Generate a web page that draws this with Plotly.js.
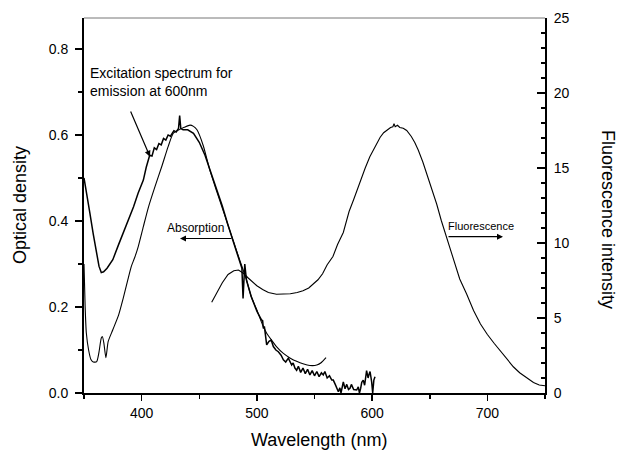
<!DOCTYPE html>
<html>
<head>
<meta charset="utf-8">
<script src="https://cdn.plot.ly/plotly-3.0.1.min.js"></script>
<style>html,body{margin:0;padding:0;background:#fff;}#chart{width:621px;height:450px;}</style>
</head>
<body>
<div id="chart"></div>
<script>
// Excitation spectrum (emission at 600 nm) — left axis, optical density scale
var excWl = [350,352,355,358,361,363,365,367,370,375,380,384,388,393,397,401.5,404,407,409,411,413,415,417,419,421,423,425,428,430,432,433,434,436,440,445,450,455,460,465,470,475,480,485,487,488,489.5,491,495,500,503,504,505,505.6,506.5,507.5,508.5,510.5,512.4,514.3,516.5,518.6,521,523,525,527.3,529,530.2,531.5,533,534.5,536,538,540,542,544,546,548,550,552,554,556,557.6,559,561,563,565,566.3,568,570.7,572,573,575,576.5,578,579.5,580.8,582,584,586.6,588,589,590,591,592.3,593.5,595.2,596.5,597.5,598.2,599.6,600.5,601.5,602.5];
var excOD = [0.50,0.47,0.42,0.37,0.32,0.295,0.28,0.282,0.29,0.31,0.345,0.371,0.40,0.433,0.465,0.495,0.525,0.553,0.551,0.57,0.566,0.58,0.577,0.592,0.588,0.60,0.597,0.61,0.607,0.615,0.645,0.615,0.612,0.612,0.604,0.583,0.553,0.515,0.475,0.435,0.39,0.35,0.31,0.29,0.22,0.30,0.262,0.225,0.19,0.172,0.17,0.168,0.15,0.155,0.13,0.112,0.12,0.123,0.108,0.10,0.096,0.088,0.077,0.072,0.081,0.07,0.065,0.07,0.058,0.053,0.062,0.048,0.058,0.045,0.055,0.042,0.052,0.04,0.05,0.038,0.047,0.042,0.05,0.035,0.04,0.03,0.03,0.02,0.003,0.012,0.0,0.026,0.01,0.02,0.008,0.011,0.02,0.008,0.007,0.014,0.0,0.01,0.025,0.03,0.018,0.052,0.035,0.045,0.05,0.026,0.0,0.03,0.038];

// Absorption spectrum — left axis, optical density
var absWl = [350,351,352,354,356,358,361,363,365,366,367.3,369,371,375,380,384,388,391,394,397,401.5,406,411.6,417.4,423,427.5,433,437,442,445,448,453.5,459,465,470,475,480,485,491,495,500,505,508.5,513,517,523,529,535,540,546,552,556,560];
var absOD = [0.30,0.20,0.14,0.10,0.078,0.072,0.073,0.095,0.128,0.131,0.115,0.082,0.12,0.147,0.181,0.22,0.263,0.294,0.315,0.34,0.387,0.433,0.48,0.526,0.573,0.604,0.613,0.618,0.623,0.62,0.612,0.575,0.52,0.47,0.43,0.39,0.35,0.31,0.263,0.225,0.193,0.158,0.139,0.122,0.108,0.092,0.081,0.073,0.068,0.064,0.065,0.071,0.082];

// Fluorescence spectrum — right axis, intensity
var fluWl = [460.8,465,470,475,480,484,488,492,496,500,505,510,517,523,529,535,540,545,549,553,557,561,566,570,575,580,584,589.5,594,598,603,607,610,613,616,618,619,620,622,624,627,630,634,637,640,644,647,652,656,660,665,670,676,682,688,694,700,706,711,717,722.5,728,734,740,745,750];
var fluInt = [6.05,6.6,7.35,7.9,8.15,8.2,8.0,7.7,7.4,7.15,6.9,6.7,6.58,6.6,6.62,6.7,6.82,7.0,7.25,7.55,7.95,8.55,9.1,9.9,10.7,12.1,12.9,14.1,15.0,15.75,16.5,17.05,17.35,17.55,17.7,17.75,17.95,17.75,17.85,17.7,17.65,17.5,17.1,16.7,16.2,15.4,14.7,13.6,12.6,11.5,10.3,9.0,7.6,6.6,5.5,4.6,3.9,3.3,2.85,2.25,1.75,1.35,1.0,0.7,0.53,0.48];

// Axis tick settings
var xTickVals = [400,500,600,700];
var yTickVals = [0.0,0.2,0.4,0.6,0.8];
var y2TickVals = [0,5,10,15,20,25];

var font = 'Liberation Sans, Arial, sans-serif';

var traces = [
  {x: excWl, y: excOD, type: 'scatter', mode: 'lines', line: {color: '#000', width: 1.5}, yaxis: 'y', hoverinfo: 'skip'},
  {x: absWl, y: absOD, type: 'scatter', mode: 'lines', line: {color: '#000', width: 1.1, shape: 'spline', smoothing: 0.6}, yaxis: 'y', hoverinfo: 'skip'},
  {x: fluWl, y: fluInt, type: 'scatter', mode: 'lines', line: {color: '#000', width: 1.1}, yaxis: 'y2', hoverinfo: 'skip'}
];

// helpers to place annotations in paper space from plot-area pixels
var L = 84, R = 545, T = 18, B = 393;
function px(x){ return (x - L) / (R - L); }
function py(y){ return (B - y) / (B - T); }

var layout = {
  width: 621, height: 450,
  margin: {l: L, r: 621 - R, t: T, b: 450 - B, pad: 0},
  paper_bgcolor: '#fff', plot_bgcolor: '#fff',
  showlegend: false,
  font: {family: font, color: '#000', size: 14},
  xaxis: {
    range: [350, 750], tickvals: xTickVals, ticks: 'outside', ticklen: 6, tickwidth: 1.5, tickcolor: '#000',
    showline: true, linewidth: 2, linecolor: '#000', showgrid: false, zeroline: false,
    minor: {dtick: 50, tick0: 350, ticks: 'outside', ticklen: 4, tickwidth: 1.5, tickcolor: '#000', showgrid: false},
    tickfont: {size: 14, family: font}
  },
  yaxis: {
    range: [0, 0.872], tickvals: yTickVals, tickformat: '.1f', ticks: 'outside', ticklen: 7, tickwidth: 1.5, tickcolor: '#000',
    showline: true, linewidth: 2, linecolor: '#000', showgrid: false, zeroline: false,
    minor: {dtick: 0.1, tick0: 0, ticks: 'outside', ticklen: 4, tickwidth: 1.5, tickcolor: '#000', showgrid: false},
    tickfont: {size: 14, family: font}, ticklabelstandoff: 4
  },
  yaxis2: {
    overlaying: 'y', side: 'right', range: [0, 25], tickvals: y2TickVals, ticks: 'inside', ticklen: 8, tickwidth: 1.5, tickcolor: '#000',
    showline: true, linewidth: 2, linecolor: '#000', showgrid: false, zeroline: false,
    minor: {dtick: 1, tick0: 0, ticks: 'inside', ticklen: 4, tickwidth: 1.5, tickcolor: '#000', showgrid: false},
    tickfont: {size: 14, family: font}, ticklabelstandoff: 4
  },
  shapes: [
    {type: 'line', xref: 'paper', yref: 'paper', x0: 0, x1: 1, y0: 1, y1: 1, line: {color: '#777', width: 1}}
  ],
  annotations: [
    {xref: 'paper', yref: 'paper', x: px(20), y: py(205), xanchor: 'center', yanchor: 'middle', text: 'Optical density', textangle: -90, showarrow: false, font: {size: 18}},
    {xref: 'paper', yref: 'paper', x: px(319), y: py(440), xanchor: 'center', yanchor: 'middle', text: 'Wavelength (nm)', showarrow: false, font: {size: 18}},
    {xref: 'paper', yref: 'paper', x: px(608), y: py(219), xanchor: 'center', yanchor: 'middle', text: 'Fluorescence intensity', textangle: 90, showarrow: false, font: {size: 18}},
    {xref: 'paper', yref: 'paper', x: px(88), y: py(82), xanchor: 'left', yanchor: 'middle', align: 'left',
     text: 'Excitation spectrum for<br>emission at 600nm', showarrow: false, font: {size: 14}},
    {xref: 'paper', yref: 'paper', x: px(150), y: py(156.7), text: '', showarrow: true, arrowhead: 2, arrowsize: 1, arrowwidth: 1.2, arrowcolor: '#000', ax: -20, ay: -46.7},
    {xref: 'paper', yref: 'paper', x: px(195), y: py(228), xanchor: 'center', yanchor: 'middle', text: 'Absorption', showarrow: false, font: {size: 12}},
    {xref: 'paper', yref: 'paper', x: px(180), y: py(238.5), text: '', showarrow: true, arrowhead: 2, arrowsize: 1, arrowwidth: 1.2, arrowcolor: '#000', ax: 53, ay: 0},
    {xref: 'paper', yref: 'paper', x: px(481), y: py(226), xanchor: 'center', yanchor: 'middle', text: 'Fluorescence', showarrow: false, font: {size: 11}},
    {xref: 'paper', yref: 'paper', x: px(503), y: py(236.7), text: '', showarrow: true, arrowhead: 2, arrowsize: 1, arrowwidth: 1.2, arrowcolor: '#000', ax: -56, ay: 0}
  ]
};

Plotly.newPlot('chart', traces, layout, {staticPlot: true, displayModeBar: false});
</script>
</body>
</html>
